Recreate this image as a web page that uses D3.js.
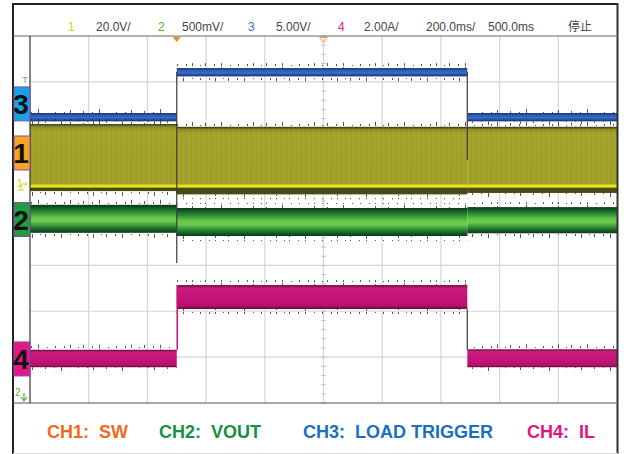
<!DOCTYPE html>
<html>
<head>
<meta charset="utf-8">
<script src="https://cdn.jsdelivr.net/npm/d3@7/dist/d3.min.js"></script>
<style>
  body { margin: 0; background: #fff; }
  text { font-family: "Liberation Sans", Arial, sans-serif; }
</style>
</head>
<body>
<div id="scope"></div>
<script>
// ---- data (time in ms, levels in screen divisions from centre) ----
const headerLabels = ['1', '20.0V/', '2', '500mV/', '3', '5.00V/', '4', '2.00A/', '200.0ms/', '500.0ms', '停止'];
const legendLabels = ['CH1:  SW', 'CH2:  VOUT', 'CH3:  LOAD TRIGGER', 'CH4:  IL'];
const segTimes = [-500, 0, 990, 1500];          // load step on at 0 ms, off at 990 ms
const ch3Top = [2.32, 3.30, 2.32];
const ch3Bottom = [2.14, 3.12, 2.14];
const ch1Top = [2.08, 2.02, 2.02];
const ch1Bottom = [0.62, 0.55, 0.58];
const ch1Ground = [0.73, 0.73, 0.73];
const ch2Top = [0.32, 0.25, 0.27];
const ch2Bottom = [-0.29, -0.36, -0.30];
const ch4Top = [-2.84, -1.43, -2.83];
const ch4Bottom = [-3.22, -1.95, -3.22];
const markerLevels = [2.52, 1.45, 0, -3.04];    // channel 3, 1, 2, 4 offsets
const markerNames = ['3', '1', '2', '4'];
const steps = [
    {t: 0, from: 3.22, to: -0.95},
    {t: 990, from: 3.22, to: 1.30},
    {t: 990, from: -1.95, to: -2.84}
];

const W = 624, H = 454;
const svg = d3.select('#scope').append('svg')
    .attr('width', W)
    .attr('height', H);

const x = d3.scaleLinear().domain([-500, 1500]).range([30, 617]);
const y = d3.scaleLinear().domain([-4, 4]).range([403, 36]);

const defs = svg.append('defs');

function gradient(id, stops) {
    const g = defs.append('linearGradient').attr('id', id)
        .attr('x1', 0).attr('y1', 0).attr('x2', 0).attr('y2', 1);
    stops.forEach(s => g.append('stop').attr('offset', s[0]).attr('stop-color', s[1]));
}
gradient('gBlue', [[0, '#0e2766'], [0.25, '#2d5bb4'], [0.6, '#3a6cc6'], [1, '#132f72']]);
gradient('gOlive', [[0, '#2e2e0c'], [0.04, '#8e8c22'], [0.1, '#a5a32b'], [1, '#a19f29']]);
gradient('gGreen', [[0, '#0a3616'], [0.18, '#1c7430'], [0.45, '#62c648'], [0.58, '#6ccf50'], [0.82, '#1f7a30'], [1, '#0a3616']]);
gradient('gPink', [[0, '#5e0836'], [0.12, '#cc1a7e'], [0.5, '#c8137a'], [0.88, '#b51070'], [1, '#58072f']]);

// edge fuzz of the persistence traces
const tickX = [3, 9, 17, 22, 31, 38, 47, 55];
const tickH = [2, 4, 1, 3, 2, 5, 1, 2];
function spikes(id, color, up, shift) {
    const p = defs.append('pattern').attr('id', id)
        .attr('patternUnits', 'userSpaceOnUse')
        .attr('x', shift)
        .attr('width', 61).attr('height', 6);
    tickX.forEach((tx, i) => {
        p.append('rect')
            .attr('x', tx).attr('width', 1)
            .attr('y', up ? 6 - tickH[i] : 0)
            .attr('height', tickH[i])
            .attr('fill', color)
            .attr('opacity', 0.75);
    });
}
spikes('upDark', '#1a1a1a', true, 0);
spikes('downDark', '#1a1a1a', false, 23);

const streak = defs.append('pattern').attr('id', 'streak')
    .attr('patternUnits', 'userSpaceOnUse').attr('width', 5).attr('height', 10);
streak.append('rect').attr('x', 1).attr('width', 1).attr('height', 10).attr('fill', '#7f7d1a').attr('opacity', 0.15);
streak.append('rect').attr('x', 3).attr('width', 1).attr('height', 10).attr('fill', '#c2c040').attr('opacity', 0.12);

// ---- frame ----
svg.append('rect').attr('x', 0).attr('y', 0).attr('width', W).attr('height', H).attr('fill', '#fff');

// grid
const grid = svg.append('g');
grid.selectAll('.vx').data(d3.range(-300, 1500, 200)).enter().append('line')
    .attr('x1', d => x(d)).attr('x2', d => x(d))
    .attr('y1', 36).attr('y2', 403)
    .attr('stroke', '#d6d6d6').attr('stroke-width', 1.2);
grid.selectAll('.hy').data(d3.range(-3, 4, 1)).enter().append('line')
    .attr('x1', 30).attr('x2', 617)
    .attr('y1', d => y(d)).attr('y2', d => y(d))
    .attr('stroke', '#d6d6d6').attr('stroke-width', 1.2);

// centre axis minor ticks
const cx = x(500), cy = y(0);
grid.selectAll('.mt').data(d3.range(-4, 4.01, 0.2)).enter().append('line')
    .attr('x1', cx - 2.5).attr('x2', cx + 2.5)
    .attr('y1', d => y(d)).attr('y2', d => y(d))
    .attr('stroke', '#c4c4c4');
grid.selectAll('.mh').data(d3.range(-500, 1500.1, 40)).enter().append('line')
    .attr('x1', d => x(d)).attr('x2', d => x(d))
    .attr('y1', cy - 2.5).attr('y2', cy + 2.5)
    .attr('stroke', '#c4c4c4');

// ---- traces ----
const traces = svg.append('g');

function band(top, bottom, fill, fuzz) {
    const segs = top.map((t, i) => ({t0: segTimes[i], t1: segTimes[i + 1], top: t, bottom: bottom[i]}));
    if (fuzz) {
        traces.selectAll(null).data(segs).enter().append('rect')
            .attr('x', d => x(d.t0)).attr('width', d => x(d.t1) - x(d.t0))
            .attr('y', d => y(d.top) - 5).attr('height', 5)
            .attr('fill', 'url(#upDark)');
        traces.selectAll(null).data(segs).enter().append('rect')
            .attr('x', d => x(d.t0)).attr('width', d => x(d.t1) - x(d.t0))
            .attr('y', d => y(d.bottom)).attr('height', 5)
            .attr('fill', 'url(#downDark)');
    }
    traces.selectAll(null).data(segs).enter().append('rect')
        .attr('x', d => x(d.t0)).attr('width', d => x(d.t1) - x(d.t0))
        .attr('y', d => y(d.top)).attr('height', d => y(d.bottom) - y(d.top))
        .attr('fill', fill);
    return segs;
}

band(ch3Top, ch3Bottom, 'url(#gBlue)', true);
const olive = band(ch1Top, ch1Bottom, 'url(#gOlive)', true);
traces.selectAll(null).data(olive).enter().append('rect')
    .attr('x', d => x(d.t0)).attr('width', d => x(d.t1) - x(d.t0))
    .attr('y', d => y(d.top)).attr('height', d => y(d.bottom) - y(d.top))
    .attr('fill', 'url(#streak)');
// dark tail under the yellow ground line
traces.selectAll(null).data(ch1Ground).enter().append('rect')
    .attr('x', (d, i) => x(segTimes[i])).attr('width', (d, i) => x(segTimes[i + 1]) - x(segTimes[i]))
    .attr('y', d => y(d) + 1.5).attr('height', (d, i) => y(ch1Bottom[i]) - y(d) - 1.5)
    .attr('fill', '#4a4a16');
traces.selectAll(null).data(ch1Ground).enter().append('rect')
    .attr('x', (d, i) => x(segTimes[i])).attr('width', (d, i) => x(segTimes[i + 1]) - x(segTimes[i]))
    .attr('y', d => y(d) - 1.5).attr('height', 3)
    .attr('fill', '#e6e21c');

band(ch2Top, ch2Bottom, 'url(#gGreen)', true);
band(ch4Top, ch4Bottom, 'url(#gPink)', true);

// transition edges
traces.selectAll(null).data(steps).enter().append('line')
    .attr('x1', d => x(d.t)).attr('x2', d => x(d.t))
    .attr('y1', d => y(d.from)).attr('y2', d => y(d.to))
    .attr('stroke', '#3a3a3a').attr('stroke-width', 1.2);
traces.append('line')
    .attr('x1', x(0) + 0.5).attr('x2', x(0) + 0.5)
    .attr('y1', y(ch4Top[0])).attr('y2', y(ch4Top[1]))
    .attr('stroke', '#c8137a').attr('stroke-width', 1.5);

// ---- borders ----
svg.append('line').attr('x1', 13).attr('x2', 618).attr('y1', 4).attr('y2', 4).attr('stroke', '#222').attr('stroke-width', 2);
svg.append('line').attr('x1', 13).attr('x2', 13).attr('y1', 3).attr('y2', H).attr('stroke', '#222').attr('stroke-width', 2);
svg.append('line').attr('x1', 617.5).attr('x2', 617.5).attr('y1', 3).attr('y2', H).attr('stroke', '#333').attr('stroke-width', 2);
svg.append('line').attr('x1', 13).attr('x2', 618).attr('y1', 36).attr('y2', 36).attr('stroke', '#666').attr('stroke-width', 1);
svg.append('line').attr('x1', 13).attr('x2', 618).attr('y1', 403).attr('y2', 403).attr('stroke', '#555').attr('stroke-width', 1.2);
svg.append('line').attr('x1', 30).attr('x2', 30).attr('y1', 36).attr('y2', 403).attr('stroke', '#333').attr('stroke-width', 1.2);
svg.append('line').attr('x1', 13).attr('x2', 618).attr('y1', 453.5).attr('y2', 453.5).attr('stroke', '#ddd');

// trigger markers
svg.append('path').attr('d', `M${x(0) - 4},37 L${x(0) + 4},37 L${x(0)},42 Z`).attr('fill', '#f08a18');
svg.append('path').attr('d', `M${cx - 4},37.5 L${cx + 4},37.5 L${cx},42.5 Z`)
    .attr('fill', 'none').attr('stroke', '#f0a040').attr('stroke-width', 1);

// ---- header ----
const headerX = [68, 96, 158, 182, 248, 276, 338, 364, 426, 488, 568];
const headerColor = ['#d6d626', '#444', '#5cb030', '#444', '#4a68c0', '#444', '#e0208a', '#444', '#444', '#444', '#444'];
svg.append('g').selectAll('text').data(headerLabels).enter().append('text')
    .attr('x', (d, i) => headerX[i]).attr('y', 31)
    .attr('font-size', 12)
    .attr('fill', (d, i) => headerColor[i])
    .style('font-family', (d, i) => i === 10 ? '"Noto Sans CJK SC", sans-serif' : null)
    .text(d => d);

// ---- channel markers on the left ----
const markerFill = ['#1aa0e6', '#f6a523', '#1f9e40', '#e3178a'];
const markers = svg.append('g');
markers.selectAll('rect').data(markerLevels).enter().append('rect')
    .attr('x', 14).attr('width', 16)
    .attr('y', d => y(d) - 17).attr('height', 34)
    .attr('fill', (d, i) => markerFill[i])
    .attr('stroke', '#8a4aa8').attr('stroke-width', 1);
markers.selectAll('text').data(markerLevels).enter().append('text')
    .attr('x', 21).attr('y', d => y(d) + 10)
    .attr('text-anchor', 'middle')
    .attr('font-size', 28)
    .attr('font-weight', 'bold')
    .attr('fill', '#111')
    .text((d, i) => markerNames[i]);

svg.append('text').attr('x', 25).attr('y', y(ch3Top[0]) - 30).attr('font-size', 9)
    .attr('text-anchor', 'middle').attr('fill', '#6a8cc8').text('T');

// ch1 ground marker
const gy = y(ch1Ground[0]);
svg.append('text').attr('x', 17).attr('y', gy + 1).attr('font-size', 10).attr('fill', '#d8d020').text('1');
svg.append('path').attr('d', `M21,${gy - 2} L27,${gy - 2} M25,${gy - 4} L27,${gy - 2} L25,${gy} M21,${gy - 2} L21,${gy + 4} M18,${gy + 4} L24,${gy + 4}`)
    .attr('stroke', '#d8d020').attr('fill', 'none').attr('stroke-width', 1);
// ch2 marker at the bottom edge
svg.append('text').attr('x', 15).attr('y', 396).attr('font-size', 10).attr('fill', '#5cb030').text('2');
svg.append('path').attr('d', 'M24,393 L24,400 M21,397 L24,401 L27,397')
    .attr('stroke', '#5cb030').attr('fill', 'none').attr('stroke-width', 1.2);

// ---- legend ----
const legendX = [47, 159, 303, 527];
const legendColor = ['#f06a1e', '#17903f', '#1a6fc0', '#e3147f'];
svg.append('g').selectAll('text').data(legendLabels).enter().append('text')
    .attr('x', (d, i) => legendX[i]).attr('y', 438)
    .attr('font-size', 18).attr('font-weight', 'bold')
    .style('white-space', 'pre')
    .attr('fill', (d, i) => legendColor[i])
    .text(d => d);
</script>
</body>
</html>
